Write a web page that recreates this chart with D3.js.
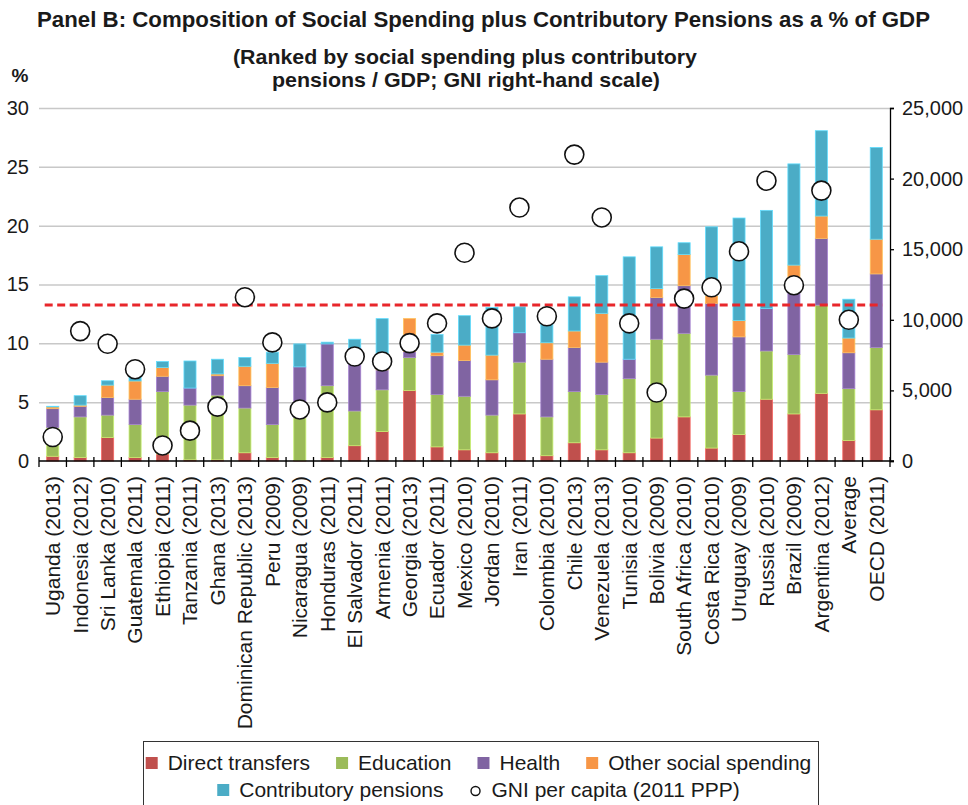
<!DOCTYPE html>
<html>
<head>
<meta charset="utf-8">
<script src="https://cdn.jsdelivr.net/npm/d3@7"></script>
<style>
  html, body { margin: 0; padding: 0; background: #fff; }
  svg { display: block; font-family: "Liberation Sans", Arial, sans-serif; }
</style>
</head>
<body>
<svg id="chart" width="968" height="805"></svg>
<script>
// ---------- DATA ----------
const categories = ["Uganda (2013)", "Indonesia (2012)", "Sri Lanka (2010)", "Guatemala (2011)", "Ethiopia (2011)",
  "Tanzania (2011)", "Ghana (2013)", "Dominican Republic (2013)", "Peru (2009)", "Nicaragua (2009)",
  "Honduras (2011)", "El Salvador (2011)", "Armenia (2011)", "Georgia (2013)", "Ecuador (2011)",
  "Mexico (2010)", "Jordan (2010)", "Iran (2011)", "Colombia (2010)", "Chile (2013)",
  "Venezuela (2013)", "Tunisia (2010)", "Bolivia (2009)", "South Africa (2010)", "Costa Rica (2010)",
  "Uruguay (2009)", "Russia (2010)", "Brazil (2009)", "Argentina (2012)", "Average", "OECD (2011)"];

const directTransfers = [0.4, 0.3, 2.0, 0.3, 0.6, 0.1, 0.1, 0.7, 0.3, 0.05, 0.3, 1.3, 2.5, 6.0, 1.2, 0.95, 0.7, 4.0, 0.45, 1.55, 0.95, 0.7, 1.95, 3.75, 1.1, 2.25, 5.25, 4.0, 5.75, 1.75, 4.35];
const education       = [2.45, 3.45, 1.9, 2.8, 5.3, 4.65, 5.5, 3.8, 2.8, 3.65, 6.1, 2.95, 3.55, 2.8, 4.45, 4.55, 3.2, 4.4, 3.3, 4.35, 4.7, 6.3, 8.4, 7.1, 6.2, 3.65, 4.1, 5.05, 7.5, 4.4, 5.3];
const health          = [1.6, 0.9, 1.5, 2.15, 1.3, 1.45, 1.65, 1.9, 3.15, 4.3, 3.55, 5.35, 1.7, 0.5, 3.3, 3.05, 3.0, 2.5, 4.9, 3.75, 2.75, 1.65, 3.55, 4.05, 6.1, 4.65, 3.6, 6.25, 5.67, 3.05, 6.25];
const otherSocial     = [0.15, 0.1, 1.05, 1.55, 0.75, 0, 0.15, 1.65, 2.05, 0, 0, 0, 0.1, 2.8, 0.3, 1.3, 2.1, 0, 1.4, 1.4, 4.15, 0, 0.75, 2.65, 0.7, 1.4, 0, 1.35, 1.9, 1.25, 2.95];
const pensions        = [0.05, 0.8, 0.37, 0.35, 0.5, 2.3, 1.25, 0.75, 0.95, 1.95, 0.15, 0.75, 4.25, 0, 1.5, 2.5, 4.05, 2.2, 2.25, 2.9, 3.2, 8.7, 3.55, 1.0, 5.8, 8.7, 8.35, 8.6, 7.25, 3.3, 7.8];
const gniPerCapita    = [1700, 9200, 8300, 6500, 1100, 2150, 3850, 11600, 8400, 3650, 4150, 7400, 7050, 8350, 9750, 14750, 10100, 17950, 10250, 21700, 17250, 9750, 4850, 11500, 12300, 14850, 19850, 12450, 19150, 10000, null];
const averageLine = 13.25;

const seriesNames  = ["Direct transfers", "Education", "Health", "Other social spending", "Contributory pensions"];
const seriesColors = ["#C0504D", "#9BBB59", "#8064A2", "#F79646", "#4BACC6"];
const leftTicks  = [0, 5, 10, 15, 20, 25, 30];
const rightTicks = [0, 5000, 10000, 15000, 20000, 25000];
const titleText = "Panel B: Composition of Social Spending plus Contributory Pensions as a % of GDP";
const subtitleLines = ["(Ranked by social spending plus contributory", "pensions / GDP; GNI right-hand scale)"];
const gniLegendLabel = "GNI per capita (2011 PPP)";

// ---------- LAYOUT ----------
const svg = d3.select("#chart");
const L = 39, R = 890, T = 108, B = 461;
const textColor = "#1a1a1a";

const x = d3.scaleBand().domain(categories).range([L, R]).paddingInner(0.56).paddingOuter(0.28);
const y = d3.scaleLinear().domain([0, 30]).range([B, T]);
const yR = d3.scaleLinear().domain([0, 25000]).range([B, T]);

// Title
svg.append("text").attr("x", 483.5).attr("y", 27).attr("text-anchor", "middle")
  .attr("font-size", 21.5).attr("font-weight", "bold").attr("fill", textColor)
  .attr("textLength", 893).attr("lengthAdjust", "spacingAndGlyphs").text(titleText);
svg.append("text").attr("x", 465).attr("y", 64).attr("text-anchor", "middle")
  .attr("font-size", 21).attr("font-weight", "bold").attr("fill", textColor)
  .attr("textLength", 464).attr("lengthAdjust", "spacingAndGlyphs").text(subtitleLines[0]);
svg.append("text").attr("x", 466).attr("y", 87).attr("text-anchor", "middle")
  .attr("font-size", 21).attr("font-weight", "bold").attr("fill", textColor)
  .attr("textLength", 388).attr("lengthAdjust", "spacingAndGlyphs").text(subtitleLines[1]);
svg.append("text").attr("x", 20).attr("y", 82).attr("text-anchor", "middle")
  .attr("font-size", 19).attr("font-weight", "bold").attr("fill", textColor).text("%");

// Gridlines
const grid = svg.append("g").attr("transform", `translate(${L},0)`)
  .call(d3.axisLeft(y).tickValues(leftTicks.filter(v => v > 0)).tickSize(-(R - L)).tickFormat(""));
grid.select(".domain").remove();
grid.selectAll("line").attr("stroke", "#c8c8c8").attr("stroke-width", 1.5);

// Left axis labels
const la = svg.append("g").attr("transform", `translate(${L},0)`)
  .call(d3.axisLeft(y).tickValues(leftTicks).tickSize(0).tickPadding(10));
la.select(".domain").remove();
la.selectAll("text").attr("font-size", 20).attr("fill", textColor).attr("font-family", "Liberation Sans, Arial, sans-serif");

// Stacked bars
const stackData = categories.map((c, i) => ({
  cat: c, s0: directTransfers[i], s1: education[i], s2: health[i], s3: otherSocial[i], s4: pensions[i]
}));
const stack = d3.stack().keys(["s0", "s1", "s2", "s3", "s4"])(stackData);
svg.append("g").selectAll("g").data(stack).join("g")
  .attr("fill", (d, i) => seriesColors[i])
  .attr("stroke", (d, i) => d3.color(seriesColors[i]).brighter(0.7))
  .attr("stroke-width", 0.8)
  .selectAll("rect").data(d => d.filter(p => p[1] - p[0] > 0)).join("rect")
  .attr("x", d => x(d.data.cat))
  .attr("width", x.bandwidth())
  .attr("y", d => y(d[1]))
  .attr("height", d => y(d[0]) - y(d[1]));

// X axis line + boundary ticks
const step = x.step();
const boundaries = d3.range(categories.length + 1).map(i => L + i * step);
svg.append("line").attr("x1", L).attr("x2", R + 4).attr("y1", B).attr("y2", B)
  .attr("stroke", "#000").attr("stroke-width", 1.3);
svg.append("g").selectAll("line").data(boundaries).join("line")
  .attr("x1", d => d).attr("x2", d => d).attr("y1", B - 4).attr("y2", B + 6)
  .attr("stroke", "#000").attr("stroke-width", 1.3);

// Category labels
svg.append("g").selectAll("text").data(categories).join("text")
  .attr("transform", d => `translate(${x(d) + x.bandwidth() / 2},476) rotate(-90)`)
  .attr("text-anchor", "end").attr("dy", "0.35em")
  .attr("font-size", 21).attr("fill", textColor).text(d => d);

// Right axis
const ra = svg.append("g").attr("transform", `translate(${R},0)`)
  .call(d3.axisRight(yR).tickValues(rightTicks).tickSize(4).tickPadding(8).tickFormat(d3.format(",")));
ra.select(".domain").attr("stroke", "#000").attr("stroke-width", 1.3);
ra.selectAll("line").attr("stroke", "#000").attr("stroke-width", 1.3);
ra.selectAll("text").attr("font-size", 20).attr("fill", textColor).attr("font-family", "Liberation Sans, Arial, sans-serif");

// Average dashed line
svg.append("line")
  .attr("x1", x(categories[0]) - 2)
  .attr("x2", x(categories[categories.length - 1]) + x.bandwidth())
  .attr("y1", y(averageLine)).attr("y2", y(averageLine))
  .attr("stroke", "#E8262B").attr("stroke-width", 3).attr("stroke-dasharray", "8,4.5");

// GNI circles
svg.append("g").selectAll("circle")
  .data(categories.map((c, i) => ({ c, v: gniPerCapita[i] })).filter(d => d.v != null))
  .join("circle")
  .attr("cx", d => x(d.c) + x.bandwidth() / 2)
  .attr("cy", d => yR(d.v))
  .attr("r", 9.5).attr("fill", "#fff").attr("stroke", "#111").attr("stroke-width", 1.6);

// Legend
const lg = svg.append("g");
lg.append("rect").attr("x", 143.5).attr("y", 741.5).attr("width", 675).attr("height", 80)
  .attr("fill", "#fff").attr("stroke", "#333").attr("stroke-width", 1);

function layoutRow(items, cy, centerX) {
  const g = lg.append("g");
  const parts = [];
  items.forEach(it => {
    const t = g.append("text").attr("y", cy + 7).attr("font-size", 21).attr("fill", textColor).text(it.label);
    parts.push({ it, t, w: t.node().getComputedTextLength() });
  });
  const sym = 12, symGap = 10, itemGap = 26;
  const total = d3.sum(parts, p => sym + symGap + p.w) + itemGap * (parts.length - 1);
  let cx = centerX - total / 2;
  parts.forEach(p => {
    if (p.it.type === "rect") {
      g.append("rect").attr("x", cx).attr("y", cy - 6).attr("width", sym).attr("height", sym).attr("fill", p.it.color);
    } else {
      g.append("circle").attr("cx", cx + sym / 2).attr("cy", cy + 1).attr("r", 4.5)
        .attr("fill", "#fff").attr("stroke", "#111").attr("stroke-width", 1.4);
    }
    p.t.attr("x", cx + sym + symGap);
    cx += sym + symGap + p.w + itemGap;
  });
}
layoutRow(seriesNames.slice(0, 4).map((n, i) => ({ label: n, color: seriesColors[i], type: "rect" })), 763, 478.5);
layoutRow([{ label: seriesNames[4], color: seriesColors[4], type: "rect" }, { label: gniLegendLabel, type: "circle" }], 790, 478.5);
</script>
</body>
</html>
